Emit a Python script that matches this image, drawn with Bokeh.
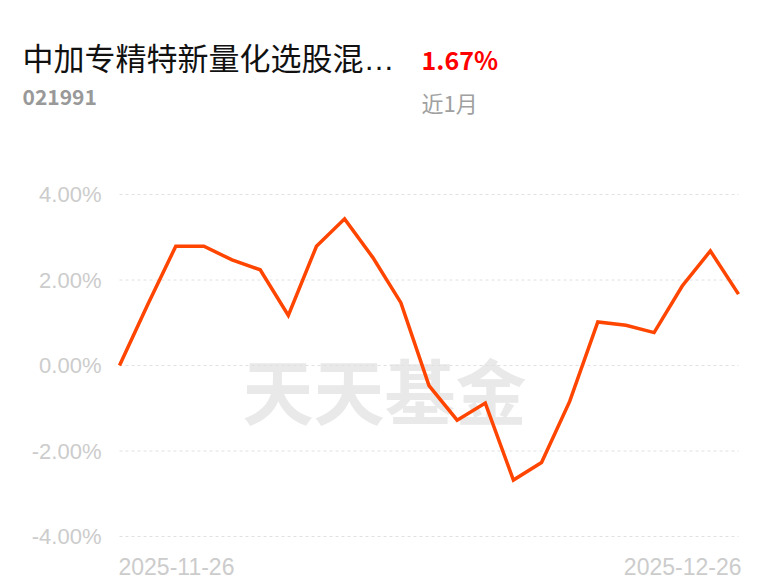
from bokeh.plotting import figure
from bokeh.models import Range1d, Label, ColumnDataSource
from bokeh.embed import file_html
from bokeh.resources import INLINE

# ---- data ----
fund_name = "中加专精特新量化选股混…"
fund_code = "021991"
period_return = "1.67%"
period_label = "近1月"
watermark = "天天基金"
dates = ["2025-11-26", "2025-11-27", "2025-11-28", "2025-12-01", "2025-12-02",
         "2025-12-03", "2025-12-04", "2025-12-05", "2025-12-08", "2025-12-09",
         "2025-12-10", "2025-12-11", "2025-12-12", "2025-12-15", "2025-12-16",
         "2025-12-17", "2025-12-18", "2025-12-19", "2025-12-22", "2025-12-23",
         "2025-12-24", "2025-12-25", "2025-12-26"]
returns = [0.00, 1.42, 2.79, 2.79, 2.47, 2.24, 1.17, 2.79, 3.43, 2.53,
           1.47, -0.47, -1.28, -0.88, -2.68, -2.27, -0.84, 1.02, 0.94, 0.77,
           1.86, 2.68, 1.67]
y_ticks = [-4, -2, 0, 2, 4]
y_tick_labels = ["%.2f%%" % v for v in y_ticks]

# ---- layout (page pixels) ----
W, H = 768, 587
X0_PX, X1_PX = 119, 738          # first / last point
Y_TOP_PX, Y_BOT_PX = 194, 536    # +4% / -4%
n = len(dates)
idx = list(range(n))
ppx = (X1_PX - X0_PX) / (n - 1)
ppy = (Y_BOT_PX - Y_TOP_PX) / (y_ticks[-1] - y_ticks[0])
y0_px = Y_TOP_PX + y_ticks[-1] * ppy
x_range = Range1d(-X0_PX / ppx, (W - X0_PX) / ppx)
y_range = Range1d(-(H - y0_px) / ppy, y0_px / ppy)

p = figure(width=W, height=H, output_backend="svg", toolbar_location=None,
           x_range=x_range, y_range=y_range,
           min_border=0, background_fill_color="white", border_fill_color="white")
p.outline_line_color = None
p.axis.visible = False
p.grid.visible = False

def sy(y):
    return H - y

# watermark under everything
p.add_layout(Label(x=384, y=sy(387), x_units="screen", y_units="screen", text=watermark,
                   text_align="center", text_baseline="middle", text_color="#e9e9e9",
                   text_font="Noto Sans CJK SC", text_font_style="bold",
                   text_font_size="71px", level="underlay"))

# dashed grid lines at the y ticks
grid_src = ColumnDataSource(dict(y=y_ticks, x0=[idx[0]] * len(y_ticks),
                                 x1=[idx[-1]] * len(y_ticks), t=y_tick_labels))
p.segment(x0="x0", x1="x1", y0="y", y1="y", source=grid_src, line_color="#e0e0e0",
          line_width=1, line_dash="3 3")

# y tick labels
p.text(x="x0", y="y", text="t", source=grid_src, text_align="right",
       text_baseline="middle", x_offset=-18, text_color="#cccccc",
       text_font_size="22px", text_font={"value": "Liberation Sans"})

# the series
src = ColumnDataSource(dict(x=idx, y=returns))
p.line("x", "y", source=src, line_color="#FF4500", line_width=3.5, line_join="miter")

# date labels at ends
p.add_layout(Label(x=idx[0], y=sy(566), x_units="data", y_units="screen", text=dates[0],
                   text_align="left", text_baseline="middle", text_color="#cccccc",
                   text_font="Liberation Sans", text_font_size="23px", x_offset=-1))
p.add_layout(Label(x=idx[-1], y=sy(566), x_units="data", y_units="screen", text=dates[-1],
                   text_align="right", text_baseline="middle", text_color="#cccccc",
                   text_font="Liberation Sans", text_font_size="23px", x_offset=3))

# header
p.add_layout(Label(x=22, y=sy(59), x_units="screen", y_units="screen", text=fund_name,
                   text_align="left", text_baseline="middle", text_color="#111111",
                   text_font="Liberation Sans, Noto Sans CJK SC", text_font_size="31px"))
p.add_layout(Label(x=421, y=sy(58), x_units="screen", y_units="screen", text=period_return,
                   text_align="left", text_baseline="middle", text_color="#ff0000",
                   text_font="Noto Sans CJK SC",
                   text_font_style="bold", text_font_size="25px"))
p.add_layout(Label(x=22, y=sy(96), x_units="screen", y_units="screen", text=fund_code,
                   text_align="left", text_baseline="middle", text_color="#999999",
                   text_font="Noto Sans CJK SC", text_font_style="bold", text_font_size="21px"))
p.add_layout(Label(x=421, y=sy(101), x_units="screen", y_units="screen", text=period_label,
                   text_align="left", text_baseline="middle", text_color="#a0a0a0",
                   text_font="Noto Sans CJK SC", text_font_size="22px"))

open("out.html", "w").write(file_html(p, INLINE))
